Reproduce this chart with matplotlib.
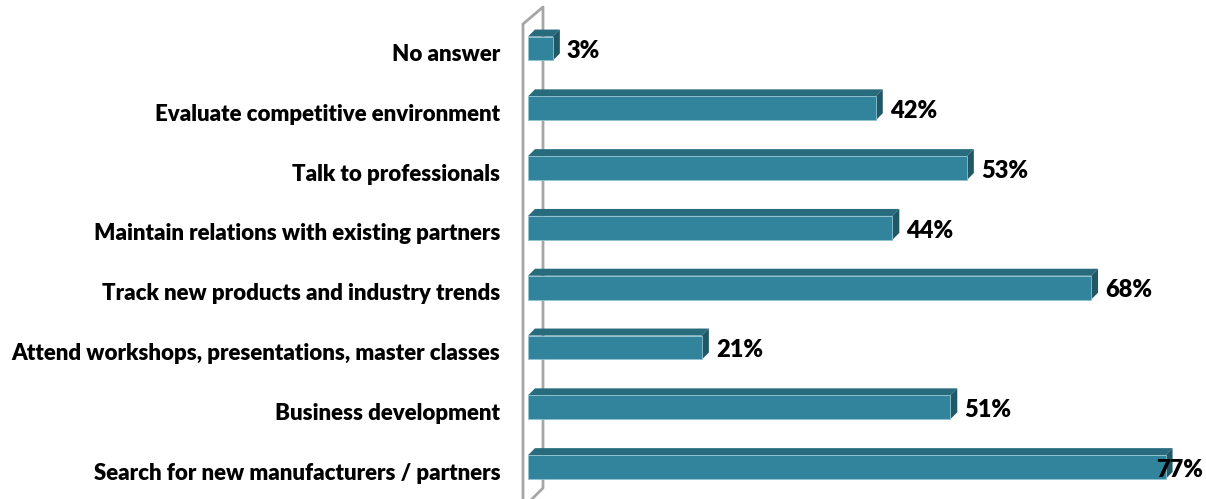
import matplotlib.pyplot as plt
from matplotlib.patches import Polygon, Rectangle
from matplotlib.lines import Line2D
from matplotlib.transforms import ScaledTranslation

# survey answers, listed top to bottom
categories = [
    "No answer",
    "Evaluate competitive environment",
    "Talk to professionals",
    "Maintain relations with existing partners",
    "Track new products and industry trends",
    "Attend workshops, presentations, master classes",
    "Business development",
    "Search for new manufacturers / partners",
]
values = [3, 42, 53, 44, 68, 21, 51, 77]
value_labels = ["3%", "42%", "53%", "44%", "68%", "21%", "51%", "77%"]

FRONT = "#31849b"
TOP = "#286b7d"
SIDE = "#205866"
EDGE = "#8fc3d1"
WALL = "#a6a6a6"

W, H = 1206, 499
x0_px = 528          # where zero sits
px_per_unit = 8.28   # pixels per percent
row_px = 59.8        # spacing between rows
first_row_px = 48.5

plt.rcParams['font.family'] = ['Lato', 'DejaVu Sans']

fig = plt.figure(figsize=(W / 100, H / 100), dpi=100)
ax = fig.add_axes([x0_px / W, 0, 1 - x0_px / W, 1])
ax.set_xlim(0, (W - x0_px) / px_per_unit)
ax.set_ylim((H - first_row_px) / row_px, -first_row_px / row_px)
for s in ax.spines.values():
    s.set_visible(False)
ax.set_xticks([])
ax.set_yticks(range(len(categories)), categories, fontsize=16, fontweight='heavy')
ax.tick_params(axis='y', length=0, pad=20)
shift = ScaledTranslation(0, -4 / 100, fig.dpi_scale_trans)
for t in ax.get_yticklabels():
    t.set_transform(t.get_transform() + shift)

# depth of the 3-D effect, in data units
ddx = 7 / px_per_unit
ddy = 7 / row_px

def px2x(p):
    return (p - x0_px) / px_per_unit

def px2y(p):
    return (p - first_row_px) / row_px

# side wall of the 3-D plot area
wall = [(px2x(523), px2y(H + 5)), (px2x(523), px2y(24)), (px2x(543), px2y(7)),
        (px2x(543), px2y(488)), (px2x(527), px2y(H + 5))]
xs, ys = zip(*wall)
ax.add_line(Line2D(xs, ys, color=WALL, lw=2, clip_on=False, zorder=1))

h = 0.2
for i, v in enumerate(values):
    top = i - h
    bot = i + h
    ax.add_patch(Polygon([(0, top), (v, top), (v + ddx, top - ddy), (ddx, top - ddy)],
                         closed=True, facecolor=TOP, edgecolor='none', zorder=3))
    ax.add_patch(Polygon([(v, top), (v + ddx, top - ddy), (v + ddx, bot - ddy), (v, bot)],
                         closed=True, facecolor=SIDE, edgecolor='none', zorder=3))
    ax.add_patch(Rectangle((0, top), v, 2 * h, facecolor=FRONT, edgecolor=EDGE,
                           lw=0.6, zorder=4))

fig.canvas.draw()
renderer = fig.canvas.get_renderer()
for i, (v, lab) in enumerate(zip(values, value_labels)):
    t = ax.annotate(lab, (v, i), xytext=(10, -2), textcoords='offset points',
                    ha='left', va='center', fontsize=17, fontweight='heavy',
                    color='black', annotation_clip=False, zorder=6)
    bb = t.get_window_extent(renderer)
    if bb.x1 > W - 3:
        t.set_position((10 - (bb.x1 - (W - 3)) * 0.72, -2))

fig.savefig("out.png", dpi=100)
